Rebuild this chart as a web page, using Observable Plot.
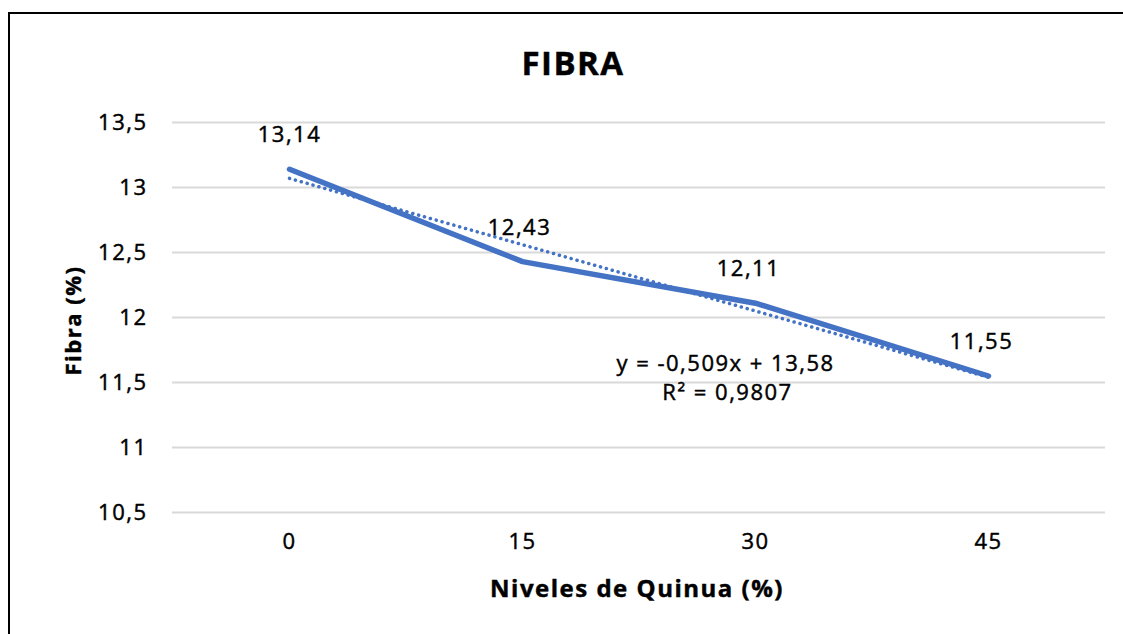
<!DOCTYPE html>
<html>
<head>
<meta charset="utf-8">
<script src="https://cdn.jsdelivr.net/npm/d3@7"></script>
<script src="https://cdn.jsdelivr.net/npm/@observablehq/plot@0.6"></script>
<style>
  html, body { margin: 0; padding: 0; background: #fff; }
  #wrap { position: relative; width: 1123px; height: 634px; overflow: hidden; font-family: "Open Sans", sans-serif; }
  #frame { position: absolute; left: 8px; top: 12px; width: 1200px; height: 700px; border: 2px solid #000; box-sizing: border-box; }
  #chart { position: absolute; left: 0; top: 0; }
  #chart svg text { stroke: #000; stroke-width: 0.45px; }
</style>
</head>
<body>
<div id="wrap"><div id="frame"></div><div id="chart"></div></div>
<script>
const title = "FIBRA";
const xLabel = "Niveles de Quinua (%)";
const yLabel = "Fibra (%)";
const levels = ["0", "15", "30", "45"];
const fibra = [13.14, 12.43, 12.11, 11.55];
const valueLabels = ["13,14", "12,43", "12,11", "11,55"];
const yTicks = [10.5, 11, 11.5, 12, 12.5, 13, 13.5];
const trendLevels = ["0", "45"];
const trendValues = [13.07, 11.54];
const equation = "y = -0,509x + 13,58";
const r2 = "R² = 0,9807";

const data = levels.map((l, i) => ({level: l, value: fibra[i], label: valueLabels[i]}));
const trend = trendLevels.map((l, i) => ({level: l, value: trendValues[i]}));
const blue = "#4472C4";
const fmt = d => String(d).replace(".", ",");
const labelDx = [0, -3, -7, -7];

const plot = Plot.plot({
  width: 1123,
  height: 634,
  marginLeft: 172,
  marginRight: 18,
  marginTop: 122,
  marginBottom: 122,
  style: {fontFamily: "Open Sans, sans-serif", fontSize: "22px", color: "#000", background: "transparent", overflow: "visible", letterSpacing: "1.5px"},
  x: {type: "point", domain: levels, padding: 0.5, label: null},
  y: {domain: [10.5, 13.5], label: null},
  marks: [
    Plot.gridY(yTicks, {stroke: "#d9d9d9", strokeOpacity: 1, strokeWidth: 2}),
    Plot.axisY(yTicks, {tickSize: 0, tickPadding: 25, tickFormat: fmt, fontSize: 22}),
    Plot.axisX(levels, {tickSize: 0, tickPadding: 21, fontSize: 22}),
    Plot.line(trend, {x: "level", y: "value", stroke: blue, strokeWidth: 3.5, strokeDasharray: "0.1 6", strokeLinecap: "round"}),
    Plot.line(data, {x: "level", y: "value", stroke: blue, strokeWidth: 5.5, strokeLinecap: "round", strokeLinejoin: "round"}),
    ...data.map((d, i) => Plot.text([d], {x: "level", y: "value", text: "label", dy: -34, dx: labelDx[i], fontSize: 22, fill: "#000"})),
    Plot.text([title], {frameAnchor: "top", dx: -66, dy: -58, lineAnchor: "middle", fontSize: 33, fontWeight: "bold", fill: "#000", letterSpacing: "2px"}),
    Plot.text([xLabel], {frameAnchor: "bottom", dx: -2, dy: 77, lineAnchor: "middle", fontSize: 24, fontWeight: "bold", fill: "#000", letterSpacing: "0.8px"}),
    Plot.text([yLabel], {frameAnchor: "left", dx: -99, dy: 3, rotate: -90, textAnchor: "middle", lineAnchor: "middle", fontSize: 22, fontWeight: "bold", fill: "#000", letterSpacing: "0px"}),
    Plot.text([equation], {x: () => "30", y: () => 11.55, dx: -30, dy: -12, fontSize: 22, fill: "#000"}),
    Plot.text([r2], {x: () => "30", y: () => 11.55, dx: -28, dy: 17, fontSize: 22, fill: "#000"})
  ]
});
document.getElementById("chart").appendChild(plot);
</script>
</body>
</html>
